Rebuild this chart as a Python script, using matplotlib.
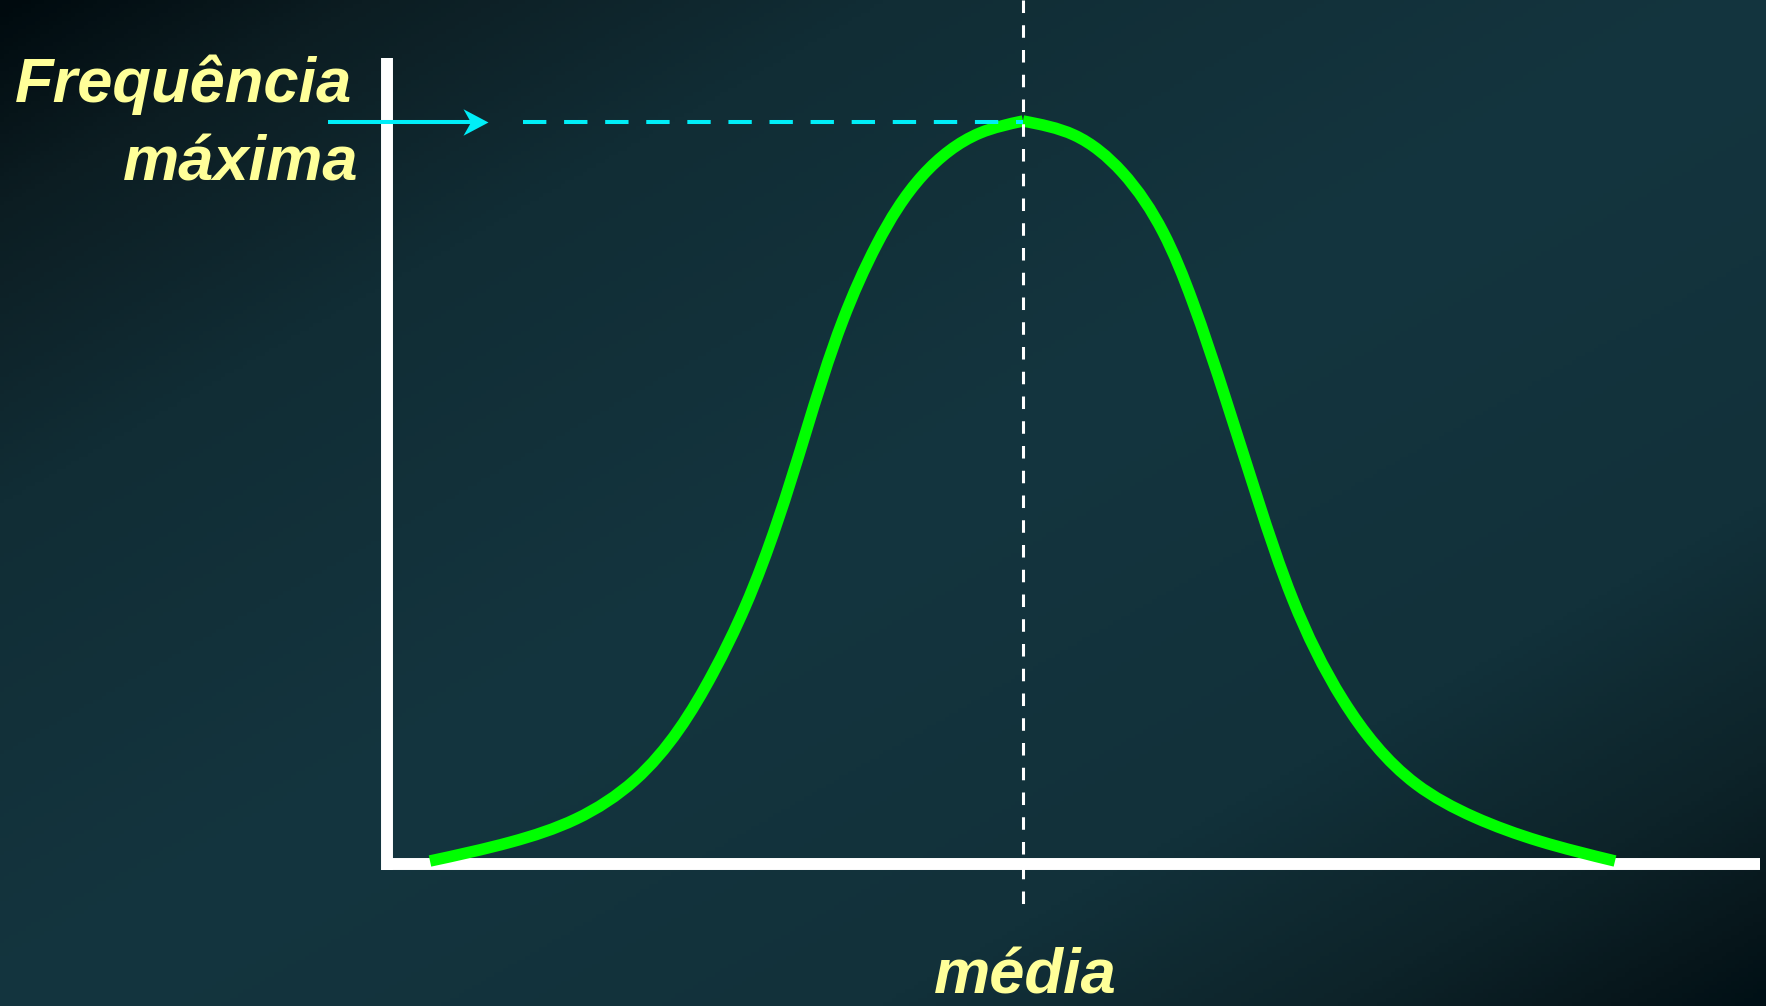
import numpy as np
import matplotlib
matplotlib.use("Agg")
import matplotlib.pyplot as plt
from matplotlib.colors import LinearSegmentedColormap
from matplotlib.path import Path
from matplotlib.patches import PathPatch

# curve nodes: position relative to the mean, frequency
left_x = [-59.3, -51.2, -44.7, -38.8, -31.0, -27.8, -21.8, -18.0,
          -14.6, -10.0, -4.3, 0.0]
left_f = [0.3, 2.2, 4.5, 8.4, 19.1, 25.7, 42.9, 54.4,
          62.0, 68.9, 73.1, 74.3]
right_x = [0.0, 5.1, 9.9, 14.0, 16.9, 20.3, 23.5, 27.0, 32.0, 39.3,
           45.1, 51.6, 59.2]
right_f = [74.3, 72.9, 69.2, 63.2, 56.4, 46.4, 36.4, 26.4, 16.4, 8.0,
           4.7, 2.3, 0.3]

mean_x = 0.0
max_f = 74.2
x_axis_range = (-63.8, 73.7)
y_axis_top = 80.6
y_axis_x = -63.6

label_freq = ["Frequência", "máxima"]
label_mean = "média"

CYAN = "#00eef8"


def smooth_path(xs, ys):
    # natural cubic spline through the nodes (chord-length parameter),
    # handed to matplotlib as cubic Bezier segments
    p = np.column_stack([xs, ys]).astype(float)
    h = np.hypot(*np.diff(p, axis=0).T)
    n = len(p)
    A = np.zeros((n, n))
    r = np.zeros((n, 2))
    A[0, 0] = A[-1, -1] = 1
    for i in range(1, n - 1):
        A[i, i - 1] = h[i - 1]
        A[i, i] = 2 * (h[i - 1] + h[i])
        A[i, i + 1] = h[i]
        r[i] = 6 * ((p[i + 1] - p[i]) / h[i] - (p[i] - p[i - 1]) / h[i - 1])
    M = np.linalg.solve(A, r)
    verts, codes = [p[0]], [Path.MOVETO]
    for i in range(n - 1):
        d = (p[i + 1] - p[i]) / h[i]
        m0 = d - h[i] * (2 * M[i] + M[i + 1]) / 6
        m1 = d + h[i] * (M[i] + 2 * M[i + 1]) / 6
        verts += [p[i] + m0 * h[i] / 3, p[i + 1] - m1 * h[i] / 3, p[i + 1]]
        codes += [Path.CURVE4] * 3
    return Path(verts, codes)


W, H, DPI = 1766, 1006, 100
fig = plt.figure(figsize=(W / DPI, H / DPI), dpi=DPI)
ax = fig.add_axes([0, 0, 1, 1])
xlim, ylim = (-102.3, 74.3), (-14.2, 86.4)

# diagonal background gradient (dark top-left and bottom-right corners)
bg = LinearSegmentedColormap.from_list("bg", [
    (0.0, "#000a0e"), (0.10, "#0c1d22"), (0.25, "#112d35"), (0.5, "#14353f"),
    (0.75, "#12313a"), (0.88, "#0d2329"), (0.96, "#07161b"), (1.0, "#001016")])
gx, gy = np.meshgrid(np.linspace(0, 1, 400), np.linspace(0, 1, 240))
ax.imshow((gx + gy) / 2, cmap=bg, extent=(xlim[0], xlim[1], ylim[0], ylim[1]),
          aspect="auto", zorder=0, origin="upper")
ax.set_xlim(*xlim)
ax.set_ylim(*ylim)
ax.axis("off")

# white axes
ax.plot([y_axis_x, y_axis_x], [-0.6, y_axis_top], color="white", lw=8.6,
        solid_capstyle="butt", zorder=2)
ax.plot(list(x_axis_range), [0, 0], color="white", lw=8.6,
        solid_capstyle="butt", zorder=2)

# curve, two halves meeting at the peak
for xs, ys in [(left_x, left_f), (right_x, right_f)]:
    ax.add_patch(PathPatch(smooth_path(xs, ys), fill=False, edgecolor="#00ff00",
                           lw=8.3, capstyle="butt", joinstyle="miter", zorder=3))

# max frequency dashed line + arrow
ax.plot([-50.0, mean_x], [max_f, max_f], color=CYAN, lw=2.9,
        dashes=(5.8, 4.4), zorder=4)
ax.plot([-69.5, -55.0], [max_f, max_f], color=CYAN, lw=2.9,
        solid_capstyle="butt", zorder=4)
head = Path([(0, 0), (-1, 0.53), (-0.7, 0), (-1, -0.53), (0, 0)],
            [Path.MOVETO, Path.LINETO, Path.LINETO, Path.LINETO, Path.CLOSEPOLY])
ax.plot([-53.5], [max_f], marker=head, ms=36, color=CYAN,
        markeredgewidth=0, zorder=4)

# mean vertical dashed line
ax.plot([mean_x, mean_x], [86.4, -4.0], color="white", lw=2.2,
        dashes=(4.1, 4.0), zorder=5)

font = dict(family="Liberation Sans", weight="bold", style="italic",
            size=45.5, color="#ffff99")
ax.text(-67.1, 76.2, label_freq[0], ha="right", va="baseline", **font)
ax.text(-66.5, 68.4, label_freq[1], ha="right", va="baseline", **font)
ax.text(0.2, -12.9, label_mean, ha="center", va="baseline", **font)

fig.savefig("out.png", dpi=DPI)
